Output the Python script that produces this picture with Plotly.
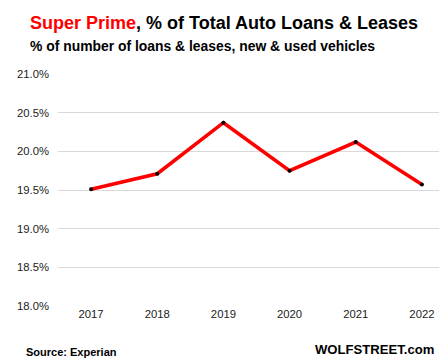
import plotly.graph_objects as go

years = ["2017", "2018", "2019", "2020", "2021", "2022"]
share = [19.51, 19.71, 20.37, 19.75, 20.12, 19.57]
y_ticks = [18.0, 18.5, 19.0, 19.5, 20.0, 20.5, 21.0]
y_tick_text = ["18.0%", "18.5%", "19.0%", "19.5%", "20.0%", "20.5%", "21.0%"]

FONT = "Liberation Sans"
L, R, T, B, W, H = 50, 0, 66, 63, 447, 361
pw = W - L - R
ph = H - T - B


def px2paper(px, py):
    return (px - L) / pw, 1 - (py - T) / ph


def note(text, px, py, anchor, size):
    x, y = px2paper(px, py)
    return dict(text=text, x=x, y=y, xref="paper", yref="paper", showarrow=False,
                xanchor=anchor, yanchor="middle",
                font=dict(size=size, color="#000000", family=FONT))


fig = go.Figure()
fig.add_trace(go.Scatter(
    x=years, y=share, mode="lines+markers",
    line=dict(color="#ff0000", width=3.5),
    marker=dict(color="#000000", size=4),
    hoverinfo="x+y",
))

fig.update_layout(
    width=W, height=H,
    margin=dict(l=L, r=R, t=T, b=B),
    paper_bgcolor="white", plot_bgcolor="white",
    showlegend=False,
    font=dict(family=FONT, color="#222222", size=12),
    xaxis=dict(type="category", range=[-0.5, 5.5], showgrid=False, showline=False,
               zeroline=False, ticks="", tickfont=dict(size=11.3, color="#222222")),
    yaxis=dict(range=[18.0, 21.0], tickvals=y_ticks, ticktext=y_tick_text,
               showgrid=True, gridcolor="#d9d9d9", gridwidth=1, zeroline=False,
               showline=False, ticks="", ticklabelstandoff=8,
               tickfont=dict(size=11.3, color="#222222")),
    annotations=[
        note("<b><span style='color:#ff0000'>Super Prime</span>, % of Total Auto Loans &amp; Leases</b>",
             20, 15, "left", 18),
        note("<b>% of number of loans &amp; leases, new &amp; used vehicles</b>", 20, 38, "left", 13.9),
        note("<b>Source: Experian</b>", 16, 344, "left", 11),
        note("<b>WOLFSTREET.com</b>", 428, 341, "right", 13.1),
    ],
)

fig.write_html("out.html")
